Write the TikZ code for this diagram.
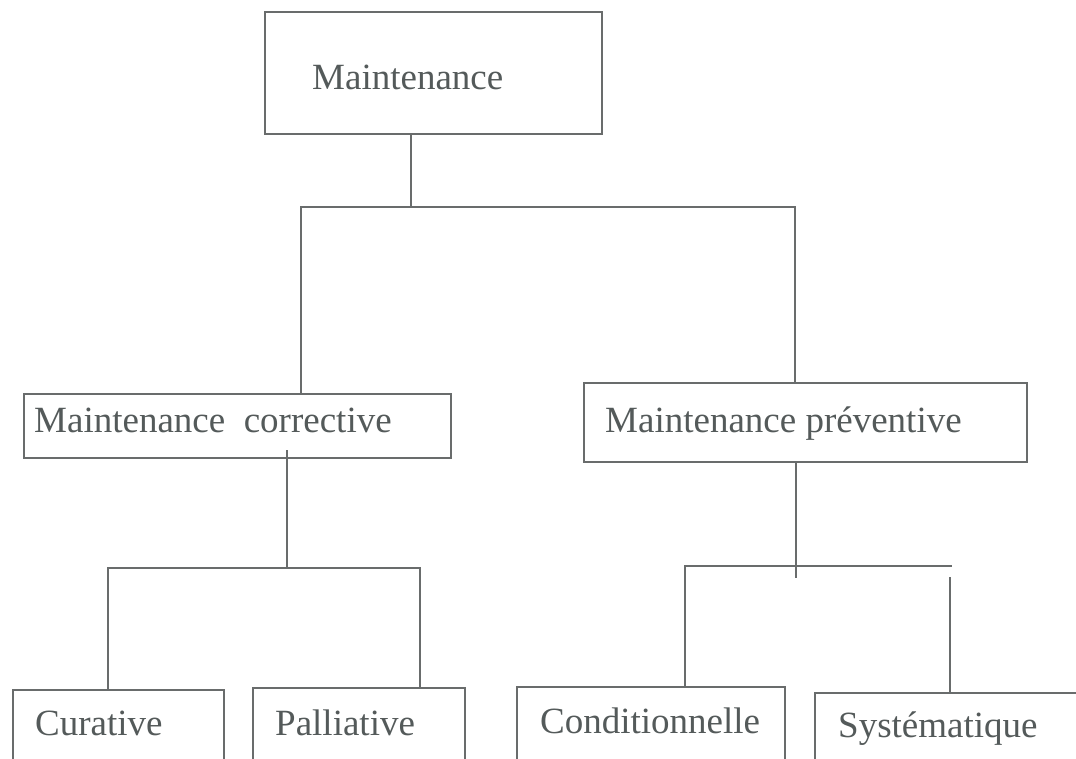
\documentclass[tikz,border=0pt]{standalone}
\usepackage{fontspec}
\setmainfont{Liberation Serif}
\definecolor{inkline}{RGB}{105,108,108}
\definecolor{inktext}{RGB}{84,90,90}
\begin{document}
\begin{tikzpicture}[x=1pt,y=-1pt,
  box/.style={draw=inkline,line width=1.6pt,anchor=north west,inner sep=0pt,outer sep=0pt},
  lbl/.style={anchor=base west,inner sep=0pt,text=inktext,font=\fontsize{37}{41}\selectfont},
  conn/.style={draw=inkline,line width=1.6pt}]
\useasboundingbox[fill=white] (0,0) rectangle (1076,759);
\clip (0,0) rectangle (1076,759);
% boxes
\node[box,minimum width=337pt,minimum height=122pt] (top) at (265,12) {};
\node[lbl] (topt) at (312,90) {Maintenance};
\node[box,minimum width=427pt,minimum height=64pt] (corr) at (24,394) {};
\node[lbl] (corrt) at (34,432) {Maintenance\ \ corrective};
\node[box,minimum width=443pt,minimum height=79pt] (prev) at (584,383) {};
\node[lbl] (prevt) at (605,432) {Maintenance préventive};
\node[box,minimum width=211pt,minimum height=90pt] (cur) at (13,690) {};
\node[lbl] (curt) at (35,735) {Curative};
\node[box,minimum width=212pt,minimum height=90pt] (pal) at (253,688) {};
\node[lbl] (palt) at (275,735) {Palliative};
\node[box,minimum width=268pt,minimum height=90pt] (cond) at (517,687) {};
\node[lbl] (condt) at (540,733) {Conditionnelle};
\node[box,minimum width=280pt,minimum height=90pt] (sys) at (815,693) {};
\node[lbl] (syst) at (838,737) {Systématique};
% junctions
\coordinate (j1) at (411,207);
\coordinate (bL) at (301,207);
\coordinate (bR) at (795,207);
\coordinate (j2) at (287,568);
\coordinate (j2s) at (287,450);
\coordinate (cL) at (108,568);
\coordinate (cR) at (420,568);
\coordinate (j3) at (796,578);
\coordinate (dL) at (685,566);
\coordinate (dR) at (952,566);
\coordinate (dRs) at (950,577);
% connectors
\draw[conn] (top.south -| j1) -- (j1);
\draw[conn] (bL |- corr.north) -- (bL) -- (bR) -- (bR |- prev.north);
\draw[conn] (j2s) -- (j2);
\draw[conn] (cL |- cur.north) -- (cL) -- (cR) -- (cR |- pal.north);
\draw[conn] (prev.south -| j3) -- (j3);
\draw[conn] (dL |- cond.north) -- (dL) -- (dR);
\draw[conn] (dRs) -- (dRs |- sys.north);
\end{tikzpicture}
\end{document}
